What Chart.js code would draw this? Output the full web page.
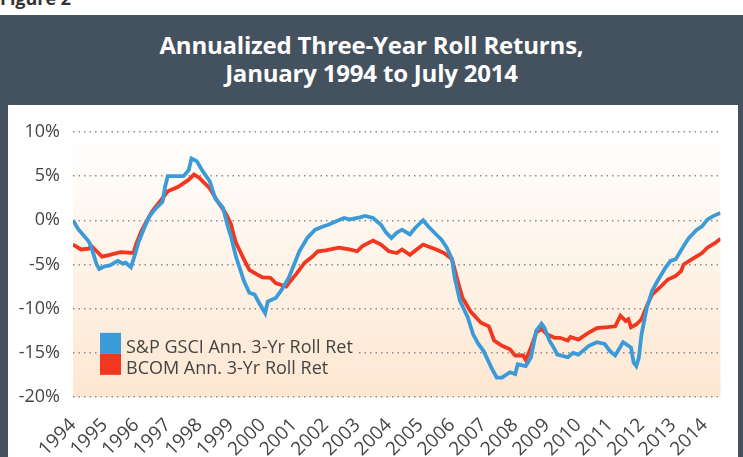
<!DOCTYPE html>
<html>
<head>
<meta charset="utf-8">
<script src="https://cdn.jsdelivr.net/npm/chart.js@4/dist/chart.umd.min.js"></script>
<style>
  html, body { margin: 0; padding: 0; background: #ffffff; }
  body { width: 743px; height: 457px; position: relative; overflow: hidden; font-family: "Open Sans", sans-serif; }
  #fig { position: absolute; left: 0; top: -14px; font-weight: 700; font-size: 18px; color: #333; }
  #panel { position: absolute; left: 0; top: 15px; width: 743px; height: 442px; background: #44515e; }
  #title { position: absolute; left: 0; top: 16px; width: 743px; text-align: center; color: #ffffff;
           font-weight: 700; font-size: 24px; line-height: 28px; letter-spacing: -0.2px; }
  #box { position: absolute; left: 8px; top: 105px; width: 730px; height: 352px; background: #ffffff; }
  #box canvas { display: block; }
</style>
</head>
<body>
<div id="fig">Figure 2</div>
<div id="panel">
  <div id="title">Annualized Three-Year Roll Returns,<br>January 1994 to July 2014</div>
</div>
<div id="box"><canvas id="c" width="730" height="352"></canvas></div>
<script>
// Tick labels (one per year, January)
const yearLabels = ['1994','1995','1996','1997','1998','1999','2000','2001','2002','2003','2004',
                    '2005','2006','2007','2008','2009','2010','2011','2012','2013','2014'];
// Months since January 1994 (0 = Jan 1994, 246 = Jul 2014)
const gsciMonths = [0,2,6,7,9,10,12,14,17,19,20,22,23,25,27,29,31,34,35,36,42,44,45,47,49,52,54,57,59,60,62,65,67,69,71,73,74,77,79,82,84,86,89,92,95,97,100,103,105,109,111,114,117,119,121,123,125,128,130,133,135,138,140,142,144,145,147,150,152,154,156,159,161,163,166,168,169,172,174,176,178,179,181,183,184,188,190,192,196,199,202,204,206,209,211,212,213,214,215,216,218,220,222,225,227,229,232,234,237,239,241,243,246];
const gsciValues = [0,-1.0,-2.4,-3.1,-5.0,-5.5,-5.2,-5.1,-4.6,-4.9,-4.8,-5.3,-4.4,-2.4,-0.9,0.45,1.2,2.1,3.8,5.0,5.0,5.7,7.0,6.7,5.7,4.4,2.5,1.4,-0.9,-1.8,-4.2,-6.9,-8.2,-8.4,-9.5,-10.5,-9.2,-8.8,-8.0,-6.5,-5.0,-3.5,-2.0,-1.06,-0.7,-0.5,-0.1,0.26,0.1,0.34,0.5,0.26,-0.5,-1.4,-2.0,-1.4,-1.05,-1.6,-0.86,0.0,-0.7,-1.6,-2.2,-3.1,-4.4,-6.5,-9.1,-11.0,-12.9,-14.0,-14.8,-16.7,-17.8,-17.8,-17.2,-17.4,-16.3,-16.5,-15.5,-12.5,-11.7,-12.1,-13.6,-14.6,-15.2,-15.5,-15.0,-15.2,-14.2,-13.8,-14.0,-14.8,-15.3,-13.8,-14.2,-14.4,-16.1,-16.5,-15.5,-12.9,-9.9,-8.0,-6.9,-5.4,-4.6,-4.4,-2.9,-2.0,-1.05,-0.68,0.08,0.45,0.83];
const bcomMonths = [0,3,6,7,9,11,14,18,23,24,26,28,30,34,36,40,44,46,48,52,55,58,60,61,62,65,67,70,72,75,77,78,81,82,85,88,91,93,96,101,105,108,110,114,117,120,123,125,128,133,138,141,144,146,148,151,155,158,160,163,166,168,171,172,174,176,178,180,183,185,188,189,192,196,199,203,206,208,210,211,212,214,216,218,220,223,226,229,231,232,236,239,241,244,246];
const bcomValues = [-2.74,-3.3,-3.2,-2.9,-3.5,-4.1,-3.9,-3.6,-3.7,-2.7,-1.2,-0.1,1.0,2.5,3.3,3.8,4.6,5.2,4.8,3.6,2.1,0.8,-0.4,-1.6,-2.6,-4.45,-5.6,-6.15,-6.45,-6.5,-7.1,-7.2,-7.5,-7.1,-6.0,-4.8,-4.1,-3.5,-3.4,-3.1,-3.3,-3.5,-2.9,-2.3,-2.75,-3.5,-3.7,-3.3,-3.9,-2.74,-3.3,-3.7,-4.4,-6.7,-8.8,-10.3,-11.6,-12.0,-13.6,-14.2,-14.6,-15.3,-15.3,-15.8,-14.4,-12.7,-12.3,-12.9,-13.3,-13.3,-13.6,-13.2,-13.5,-12.7,-12.2,-12.1,-12.0,-10.8,-11.4,-11.2,-12.1,-11.8,-11.2,-9.7,-8.4,-7.6,-6.7,-6.3,-5.75,-5.0,-4.25,-3.7,-3.1,-2.56,-2.07];
const seriesNames = ['S&P GSCI Ann. 3-Yr Roll Ret', 'BCOM Ann. 3-Yr Roll Ret'];

const BLUE = '#3b9ad8';
const RED = '#f2361f';
const TEXT = '#444444';
const FONT = '"Open Sans", sans-serif';

function getGradient(chart) {
  const a = chart.chartArea;
  const g = chart.ctx.createLinearGradient(0, a.top, 0, a.bottom);
  g.addColorStop(0, '#ffffff');
  g.addColorStop(1, '#fde7d1');
  return g;
}

const bgPlugin = {
  id: 'plotBg',
  beforeDraw(chart) {
    const a = chart.chartArea, ctx = chart.ctx;
    ctx.save();
    ctx.fillStyle = getGradient(chart);
    ctx.fillRect(a.left, a.top, a.right - a.left, a.bottom - a.top);
    ctx.restore();
  }
};

const legendPlugin = {
  id: 'insideLegend',
  beforeDatasetsDraw(chart) {
    const a = chart.chartArea, ctx = chart.ctx;
    const yS = chart.scales.y;
    const left = a.left + 27;
    const top = yS.getPixelForValue(-15) - 20;
    const sq = 21;
    ctx.save();
    ctx.font = '18px ' + FONT;
    let maxW = 0;
    chart.data.datasets.forEach(ds => { maxW = Math.max(maxW, ctx.measureText(ds.label).width); });
    ctx.fillStyle = getGradient(chart);
    ctx.fillRect(left - 2, top - 2, sq + 6 + maxW + 6, sq * 2 + 4);
    chart.data.datasets.forEach((ds, i) => {
      const y0 = top + i * sq;
      ctx.fillStyle = ds.borderColor;
      ctx.fillRect(left, y0, sq, sq);
      ctx.fillStyle = TEXT;
      ctx.textBaseline = 'alphabetic';
      ctx.textAlign = 'left';
      ctx.fillText(ds.label, left + sq + 5, y0 + sq - 1);
    });
    ctx.restore();
  }
};

new Chart(document.getElementById('c'), {
  type: 'line',
  data: {
    datasets: [
      { label: seriesNames[0], data: gsciMonths.map((m, i) => ({ x: m, y: gsciValues[i] })),
        borderColor: BLUE, backgroundColor: BLUE, borderWidth: 3.8, pointRadius: 0, tension: 0, fill: false },
      { label: seriesNames[1], data: bcomMonths.map((m, i) => ({ x: m, y: bcomValues[i] })),
        borderColor: RED, backgroundColor: RED, borderWidth: 3.8, pointRadius: 0, tension: 0, fill: false }
    ]
  },
  options: {
    responsive: false,
    animation: false,
    events: [],
    layout: { padding: { top: 27, right: 7, left: 0, bottom: 0 } },
    plugins: { legend: { display: false }, title: { display: false }, tooltip: { enabled: false } },
    scales: {
      x: {
        type: 'linear', min: 0, max: 246,
        grid: { display: false, drawTicks: false },
        border: { display: false },
        afterFit(s) { s.height = 60; },
        afterBuildTicks(s) { s.ticks = yearLabels.map((_, i) => ({ value: i * 12 })); },
        ticks: {
          autoSkip: false,
          minRotation: 45, maxRotation: 45, padding: 17,
          color: TEXT, font: { family: FONT, size: 19 },
          callback(v) { return (v % 12 === 0) ? (yearLabels[v / 12] || '') : ''; }
        }
      },
      y: {
        min: -20, max: 10,
        grid: { color: '#8c8c8c', lineWidth: 1.5, drawTicks: false },
        border: { display: false, dash: [1.5, 4] },
        afterFit(s) { s.width = 65; },
        ticks: {
          stepSize: 5, padding: 13,
          color: TEXT, font: { family: FONT, size: 18 },
          callback(v) { return v + '%'; }
        }
      }
    }
  },
  plugins: [bgPlugin, legendPlugin]
});
</script>
</body>
</html>
